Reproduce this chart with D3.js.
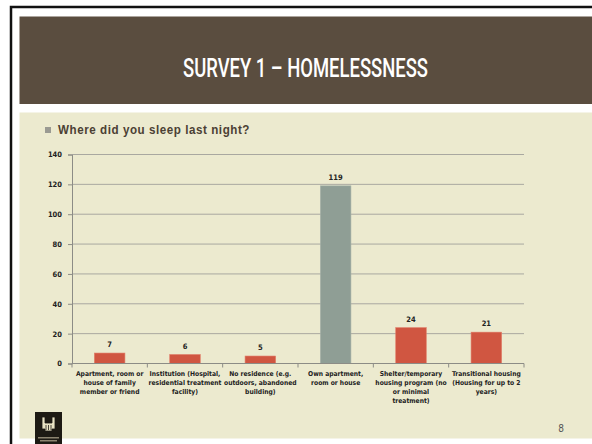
<!DOCTYPE html>
<html>
<head>
<meta charset="utf-8">
<script src="https://cdn.jsdelivr.net/npm/d3@7"></script>
<style>
  body { margin: 0; background: #fff; }
  svg { display: block; }
</style>
</head>
<body>
<script>
// slide size
var width = 592;
var height = 444;

// chart data
var categories = [
  ["Apartment, room or", "house of family", "member or friend"],
  ["Institution (Hospital,", "residential treatment", "facility)"],
  ["No residence (e.g.", "outdoors, abandoned", "building)"],
  ["Own apartment,", "room or house"],
  ["Shelter/temporary", "housing program (no", "or minimal", "treatment)"],
  ["Transitional housing", "(Housing for up to 2", "years)"]
];
var values = [7, 6, 5, 119, 24, 21];
var yTicks = [0, 20, 40, 60, 80, 100, 120, 140];
var highlight = 3; // grey bar

var font = "'Liberation Sans Narrow', 'Arial Narrow', 'DejaVu Sans Condensed', sans-serif";

var svg = d3.select("body").append("svg")
  .attr("width", width)
  .attr("height", height);

// slide frame
svg.append("rect").attr("x", 0).attr("y", 0).attr("width", width).attr("height", height).attr("fill", "#fff");
svg.append("path")
  .attr("d", "M11,444 V7 H592")
  .attr("fill", "none")
  .attr("stroke", "#111")
  .attr("stroke-width", 2.5);

// header band
svg.append("rect")
  .attr("x", 19.5).attr("y", 16.5)
  .attr("width", width - 19.5).attr("height", 87.5)
  .attr("fill", "#5a4d3f");
svg.append("text")
  .attr("x", 183).attr("y", 77)
  .attr("textLength", 245)
  .attr("lengthAdjust", "spacingAndGlyphs")
  .attr("fill", "#fff")
  .style("font-family", "Roboto, sans-serif")
  .style("font-size", "26px")
  .style("font-weight", "500")
  .text("SURVEY 1 \u2013 HOMELESSNESS");

// content panel
svg.append("rect")
  .attr("x", 19.5).attr("y", 112.5)
  .attr("width", width - 19.5).attr("height", 326)
  .attr("fill", "#eceacf");

// subtitle bullet
svg.append("rect")
  .attr("x", 45).attr("y", 127).attr("width", 6).attr("height", 6)
  .attr("fill", "#9a9a92");
svg.append("text")
  .attr("x", 58).attr("y", 134)
  .attr("textLength", 192)
  .attr("lengthAdjust", "spacingAndGlyphs")
  .attr("fill", "#4b4034")
  .style("font-family", "'Liberation Sans', Arial, sans-serif")
  .style("font-weight", "bold")
  .style("font-size", "12.5px")
  .style("letter-spacing", "0.6px")
  .text("Where did you sleep last night?");

// scales
var x = d3.scaleBand()
  .domain(d3.range(values.length))
  .range([72, 524])
  .paddingInner(0.595)
  .paddingOuter(0.2975);
var xGroup = d3.scaleBand()
  .domain(d3.range(values.length))
  .range([72, 524]);
var y = d3.scaleLinear()
  .domain([0, 140])
  .range([363.5, 154.5]);

// gridlines
svg.append("g")
  .selectAll("line")
  .data(yTicks.slice(1))
  .enter().append("line")
  .attr("x1", 72).attr("x2", 524)
  .attr("y1", function(d) { return y(d); })
  .attr("y2", function(d) { return y(d); })
  .attr("stroke", "#a9a8a0")
  .attr("stroke-width", 1);

// y axis
var yAxis = svg.append("g")
  .attr("transform", "translate(72,0)")
  .call(d3.axisLeft(y).tickValues(yTicks).tickSize(4).tickPadding(6));
yAxis.select(".domain").attr("stroke", "#8c8c86");
yAxis.selectAll(".tick line").attr("stroke", "#8c8c86");
yAxis.selectAll("text")
  .attr("fill", "#222")
  .style("font-family", font)
  .style("font-weight", "bold")
  .style("font-size", "7.5px");

// bars
svg.append("g")
  .selectAll("rect")
  .data(values)
  .enter().append("rect")
  .attr("x", function(d, i) { return x(i); })
  .attr("y", function(d) { return y(d); })
  .attr("width", x.bandwidth())
  .attr("height", function(d) { return y(0) - y(d); })
  .attr("fill", function(d, i) { return i == highlight ? "#8f9e95" : "#d05641"; })
  .attr("stroke", function(d, i) { return i == highlight ? "#a4b0a8" : "#e07a66"; })
  .attr("stroke-width", 0.6);

// value labels
svg.append("g")
  .selectAll("text")
  .data(values)
  .enter().append("text")
  .attr("x", function(d, i) { return x(i) + x.bandwidth() / 2; })
  .attr("y", function(d) { return y(d) - 6; })
  .attr("text-anchor", "middle")
  .attr("fill", "#222")
  .style("font-family", font)
  .style("font-weight", "bold")
  .style("font-size", "7.5px")
  .text(function(d) { return d; });

// x axis line and ticks at category boundaries
svg.append("line")
  .attr("x1", 72).attr("x2", 524)
  .attr("y1", y(0)).attr("y2", y(0))
  .attr("stroke", "#8c8c86");
svg.append("g")
  .selectAll("line")
  .data(d3.range(values.length + 1))
  .enter().append("line")
  .attr("x1", function(i) { return i < values.length ? xGroup(i) : 524; })
  .attr("x2", function(i) { return i < values.length ? xGroup(i) : 524; })
  .attr("y1", y(0)).attr("y2", y(0) + 4)
  .attr("stroke", "#8c8c86");

// category labels
var catLabels = svg.append("g")
  .selectAll("text")
  .data(categories)
  .enter().append("text")
  .attr("x", function(d, i) { return xGroup(i) + xGroup.bandwidth() / 2; })
  .attr("y", 376)
  .attr("text-anchor", "middle")
  .attr("fill", "#222")
  .style("font-family", font)
  .style("font-weight", "bold")
  .style("font-size", "6.7px");
catLabels.selectAll("tspan")
  .data(function(d) { return d; })
  .enter().append("tspan")
  .attr("x", function() { return d3.select(this.parentNode).attr("x"); })
  .attr("dy", function(d, i) { return i == 0 ? 0 : 9; })
  .text(function(d) { return d; });

// logo
var logo = svg.append("g").attr("transform", "translate(35,412)");
logo.append("rect").attr("width", 27).attr("height", 32).attr("fill", "#1d1a14");
logo.append("path")
  .attr("d", "M7,5 h3 v6 h7 v-6 h3 v12 h-3 v2 h-7 v-2 h-3 z M11,13 v5 M13.5,13 v5 M16,13 v5")
  .attr("fill", "#e8e2c4")
  .attr("stroke", "#1d1a14")
  .attr("stroke-width", 0.8);
logo.append("rect").attr("x", 3).attr("y", 25).attr("width", 21).attr("height", 1.5).attr("fill", "#8c8470");
logo.append("rect").attr("x", 5).attr("y", 28).attr("width", 17).attr("height", 1.5).attr("fill", "#8c8470");

// page number
svg.append("text")
  .attr("x", 561).attr("y", 432)
  .attr("text-anchor", "middle")
  .attr("fill", "#555")
  .style("font-family", font)
  .style("font-size", "10px")
  .text("8");
</script>
</body>
</html>
